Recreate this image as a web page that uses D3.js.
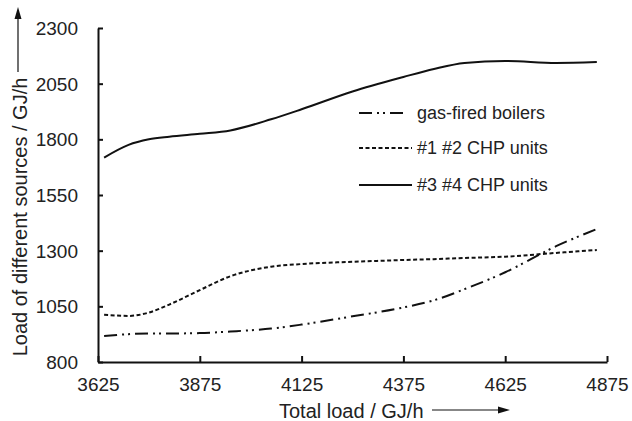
<!DOCTYPE html>
<html>
<head>
<meta charset="utf-8">
<script src="https://cdn.jsdelivr.net/npm/d3@7"></script>
<style>
  body { margin: 0; background: #fff; }
  text { font-family: "Liberation Sans", Arial, sans-serif; fill: #222; }
</style>
</head>
<body>
<svg id="chart" width="632" height="421"></svg>
<script>
// total load (GJ/h) at which the curves were sampled
var totalLoad = [3640, 3700, 3750, 3800, 3875, 3950, 4050, 4125, 4250, 4375, 4450, 4525, 4625, 4750, 4850];
var gasBoilers = [917, 925, 928, 928, 930, 937, 950, 968, 1005, 1045, 1077, 1127, 1203, 1320, 1397];
var chp12 = [1012, 1007, 1022, 1058, 1123, 1185, 1228, 1240, 1250, 1258, 1262, 1267, 1273, 1290, 1303];
var chp34 = [1718, 1775, 1800, 1812, 1825, 1840, 1890, 1935, 2015, 2080, 2116, 2143, 2152, 2143, 2147];

var xTicks = [3625, 3875, 4125, 4375, 4625, 4875];
var yTicks = [800, 1050, 1300, 1550, 1800, 2050, 2300];

var seriesNames = ["gas-fired boilers", "#1 #2 CHP units", "#3 #4 CHP units"];
var seriesVals = [gasBoilers, chp12, chp34];
var dashes = ["13,5,2,4,2,5", "4,2.5", null];

var margin = {left: 98, top: 28};
var w = 509, h = 334;

var svg = d3.select("#chart");
var g = svg.append("g").attr("transform", "translate(" + margin.left + "," + margin.top + ")");

var x = d3.scaleLinear().domain([3625, 4875]).range([0, w]);
var y = d3.scaleLinear().domain([800, 2300]).range([h, 0]);

// axes - ticks point inwards
var xAxis = g.append("g").attr("transform", "translate(0," + h + ")")
    .call(d3.axisBottom(x).tickValues(xTicks).tickSizeInner(-6).tickSizeOuter(0).tickPadding(16).tickFormat(d3.format("d")));
var yAxis = g.append("g")
    .call(d3.axisLeft(y).tickValues(yTicks).tickSizeInner(-5).tickSizeOuter(0).tickPadding(20).tickFormat(d3.format("d")));

[xAxis, yAxis].forEach(function(ax) {
    ax.select(".domain").attr("stroke", "#111").attr("stroke-width", 2);
    ax.selectAll(".tick line").attr("stroke", "#111").attr("stroke-width", 2);
    ax.selectAll(".tick text").style("font-size", "19px").style("font-family", "Liberation Sans, Arial, sans-serif").attr("fill", "#222");
});
yAxis.selectAll(".tick text").attr("dy", "0.35em");

// lines
var line = d3.line()
    .x(function(d) { return x(d[0]); })
    .y(function(d) { return y(d[1]); })
    .curve(d3.curveMonotoneX);

seriesVals.forEach(function(vals, i) {
    var pts = totalLoad.map(function(t, j) { return [t, vals[j]]; });
    g.append("path")
        .attr("d", line(pts))
        .attr("fill", "none")
        .attr("stroke", "#111")
        .attr("stroke-width", 2)
        .attr("stroke-dasharray", dashes[i]);
});

// legend
var legY = [113, 148, 185];
seriesNames.forEach(function(name, i) {
    svg.append("line")
        .attr("x1", 359).attr("x2", i == 0 ? 408 : 412)
        .attr("y1", legY[i]).attr("y2", legY[i])
        .attr("stroke", "#111").attr("stroke-width", 2)
        .attr("stroke-dasharray", dashes[i]);
    svg.append("text")
        .attr("x", 417).attr("y", legY[i]).attr("dy", "0.35em")
        .style("font-size", "18px")
        .text(name);
});

// axis titles with arrows
svg.append("text")
    .attr("x", 279).attr("y", 418)
    .style("font-size", "20px")
    .text("Total load / GJ/h");
svg.append("line").attr("x1", 432).attr("x2", 498).attr("y1", 410).attr("y2", 410)
    .attr("stroke", "#111").attr("stroke-width", 1.2);
svg.append("path").attr("d", "M498,406.5 L510,410 L498,413.5 Z").attr("fill", "#111");

svg.append("text")
    .attr("transform", "translate(27,217) rotate(-90)")
    .attr("text-anchor", "middle")
    .style("font-size", "20px")
    .text("Load of different sources / GJ/h");
svg.append("line").attr("x1", 18).attr("x2", 18).attr("y1", 72).attr("y2", 18)
    .attr("stroke", "#111").attr("stroke-width", 1.2);
svg.append("path").attr("d", "M14.5,19 L18,7 L21.5,19 Z").attr("fill", "#111");
</script>
</body>
</html>
